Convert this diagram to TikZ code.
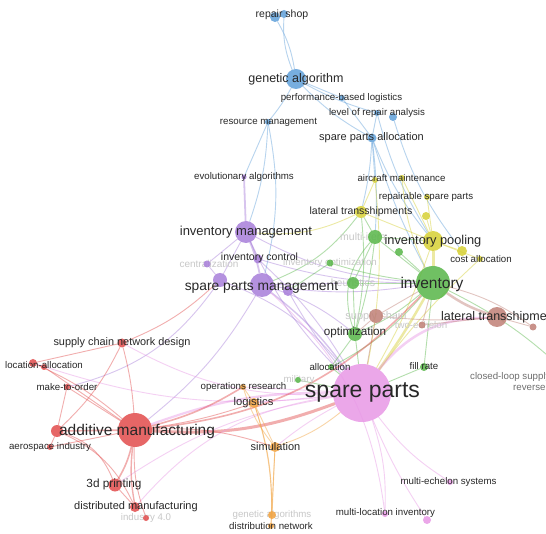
\documentclass[tikz,border=0pt]{standalone}
\usepackage{fontspec}
\setmainfont{Liberation Sans}
\definecolor{cblue}{RGB}{96,160,218}
\definecolor{cpurp}{RGB}{168,126,218}
\definecolor{cgreen}{RGB}{88,182,72}
\definecolor{cyel}{RGB}{214,208,52}
\definecolor{cbrown}{RGB}{192,128,118}
\definecolor{cpink}{RGB}{232,152,230}
\definecolor{cred}{RGB}{226,76,76}
\definecolor{corange}{RGB}{242,162,62}
\definecolor{ctext}{RGB}{40,40,40}
\definecolor{cfade}{RGB}{200,200,200}
\definecolor{cgray}{RGB}{110,110,110}
\pgfdeclarelayer{bg}
\pgfdeclarelayer{edges}
\pgfdeclarelayer{faded}
\pgfsetlayers{bg,edges,faded,main}
\begin{document}
\begin{tikzpicture}[x=1pt,y=-1pt,
  dot/.style={circle,inner sep=0pt,outer sep=0pt,draw=none,fill=#1,fill opacity=0.85},
  lbl/.style={text=ctext,inner sep=0pt,font=\fontsize{9.7}{10}\selectfont},
  fdl/.style={text=cfade,inner sep=0pt,font=\fontsize{9.7}{10}\selectfont},
  fs/.style={font=\fontsize{#1}{#1}\selectfont},
  e/.style={draw=#1,draw opacity=0.45,line width=0.9pt},
  thk/.style={line width=#1}]
\useasboundingbox (0,0) rectangle (546,534);
\begin{pgfonlayer}{bg}
\fill[white] (0,0) rectangle (546,534);
\end{pgfonlayer}
% ---------- nodes (circles) ----------
% blue
\node[dot=cblue,minimum size=10pt] (rs1) at (275,17) {};
\node[dot=cblue,minimum size=8pt] (rs2) at (284,14) {};
\node[dot=cblue,minimum size=20pt] (ga) at (296,79) {};
\node[dot=cblue,minimum size=6pt] (pbl) at (342,98) {};
\node[dot=cblue,minimum size=6pt] (lra1) at (377,113) {};
\node[dot=cblue,minimum size=8pt] (lra2) at (393,117) {};
\node[dot=cblue,minimum size=6pt] (rm) at (268,122) {};
\node[dot=cblue,minimum size=9pt] (spa) at (372,138) {};
% purple
\node[dot=cpurp,minimum size=5pt] (ea) at (244,177) {};
\node[dot=cpurp,minimum size=22pt] (im) at (246,232) {};
\node[dot=cpurp,minimum size=9pt] (ic) at (258,259) {};
\node[dot=cpurp,minimum size=7pt] (cen) at (207,264) {};
\node[dot=cpurp,minimum size=14pt] (spm1) at (220,280) {};
\node[dot=cpurp,minimum size=24pt] (spm) at (262,285) {};
\node[dot=cpurp,minimum size=10pt] (spm2) at (288,291) {};
% green
\node[dot=cgreen,minimum size=34pt] (inv) at (433,283) {};
\node[dot=cgreen,minimum size=14pt] (g1) at (375,237) {};
\node[dot=cgreen,minimum size=8pt] (g2) at (399,252) {};
\node[dot=cgreen,minimum size=7pt] (io) at (330,263) {};
\node[dot=cgreen,minimum size=12pt] (heu) at (353,283) {};
\node[dot=cgreen,minimum size=14pt] (opt) at (355,334) {};
\node[dot=cgreen,minimum size=6pt] (alloc) at (331,367) {};
\node[dot=cgreen,minimum size=6pt] (mil) at (298,380) {};
\node[dot=cgreen,minimum size=8pt] (fr) at (424,367) {};
\coordinate (clsc) at (566,372);
% yellow
\node[dot=cyel,minimum size=6pt] (am1) at (375,180) {};
\node[dot=cyel,minimum size=6pt] (am2) at (402,178) {};
\node[dot=cyel,minimum size=6pt] (rsp) at (427,197) {};
\node[dot=cyel,minimum size=8pt] (y1) at (426,216) {};
\node[dot=cyel,minimum size=12pt] (lts) at (361,212) {};
\node[dot=cyel,minimum size=20pt] (ip) at (433,241) {};
\node[dot=cyel,minimum size=10pt] (ca1) at (462,251) {};
\node[dot=cyel,minimum size=6pt] (ca2) at (480,259) {};
% brown
\node[dot=cbrown,minimum size=14pt] (sc) at (376,316) {};
\node[dot=cbrown,minimum size=7pt] (te) at (422,325) {};
\node[dot=cbrown,minimum size=20pt] (lt) at (497,317) {};
\node[dot=cbrown,minimum size=7pt] (b1) at (533,327) {};
% pink
\node[dot=cpink,minimum size=58pt] (sp) at (362,393) {};
\node[dot=cpink,minimum size=6pt] (mes) at (450,482) {};
\node[dot=cpink,minimum size=6pt] (mli) at (385,514) {};
\node[dot=cpink,minimum size=8pt] (p1) at (427,520) {};
% red
\node[dot=cred,minimum size=9pt] (scnd) at (122,343) {};
\node[dot=cred,minimum size=8pt] (la1) at (33,363) {};
\node[dot=cred,minimum size=6pt] (la2) at (44,367) {};
\node[dot=cred,minimum size=6pt] (mto) at (67,387) {};
\node[dot=cred,minimum size=34pt] (am) at (135,430) {};
\node[dot=cred,minimum size=12pt] (amb) at (57,431) {};
\node[dot=cred,minimum size=6pt] (aero) at (50,447) {};
\node[dot=cred,minimum size=13pt] (tdp) at (115,485) {};
\node[dot=cred,minimum size=10pt] (dm) at (135,507) {};
\node[dot=cred,minimum size=6pt] (i40) at (146,518) {};
% orange
\node[dot=corange,minimum size=6pt] (opr) at (243,387) {};
\node[dot=corange,minimum size=10pt] (log) at (254,403) {};
\node[dot=corange,minimum size=10pt] (sim) at (275,447) {};
\node[dot=corange,minimum size=8pt] (gas) at (272,515) {};
\node[dot=corange,minimum size=6pt] (dn) at (271,526) {};
% ---------- edges ----------
\begin{pgfonlayer}{edges}
% blue
\draw[e=cblue] (rs1) to[bend left=10] (ga);
\draw[e=cblue] (rs2) to[bend left=-12] (ga);
\draw[e=cblue] (ga) to[bend left=5] (rm);
\draw[e=cblue] (ga) to (pbl);
\draw[e=cblue] (ga) to[bend left=-8] (spa);
\draw[e=cblue] (pbl) to (spa);
\draw[e=cblue] (ga) to[bend left=-6] (lra1);
\draw[e=cblue] (lra1) to (spa);
\draw[e=cblue] (lra2) to[bend left=-10] (ca1);
\draw[e=cblue] (lra1) to[bend left=-8] (ip);
\draw[e=cblue] (rm) to[bend left=8] (im);
\draw[e=cblue] (rm) to[bend left=12] (spm);
\draw[e=cblue] (rm) to (ea);
\draw[e=cblue] (spa) to (am1);
\draw[e=cblue] (spa) to[bend left=5] (lts);
\draw[e=cblue] (spa) to[bend left=-5] (inv);
\draw[e=cblue] (spa) to[bend left=-8] (ip);
\draw[e=cblue] (spa) to[bend left=5] (g1);
% purple
\draw[e=cpurp,thk=1.8pt] (ea) to (im);
\draw[e=cpurp,thk=1.8pt] (im) to[bend left=5] (spm);
\draw[e=cpurp] (im) to (spm1);
\draw[e=cpurp] (im) to (ic);
\draw[e=cpurp] (im) to (cen);
\draw[e=cyel] (im) to[bend left=-15] (lts);
\draw[e=cpurp] (im) to[bend left=-12] (inv);
\draw[e=cpurp] (im) to[bend left=-10] (sp);
\draw[e=cpurp,thk=1.4pt] (spm) to[bend left=8] (sp);
\draw[e=cpurp] (spm1) to[bend left=15] (sp);
\draw[e=cpurp] (spm2) to[bend left=-5] (sp);
\draw[e=cpurp] (spm) to[bend left=-8] (inv);
\draw[e=cpurp] (spm) to[bend left=10] (opt);
\draw[e=cpurp] (spm) to[bend left=10] (am);
\draw[e=cpurp] (ic) to[bend left=-8] (inv);
\draw[e=cpurp] (cen) to (spm1);
\draw[e=cpink] (spm) to[bend left=20] (mli);
\draw[e=cpurp] (ic) to[bend left=8] (sp);
\draw[e=cpurp] (spm) to (heu);
\draw[e=cpurp] (spm1) to[bend left=20] (mto);
% green
\draw[e=cyel,thk=3pt] (inv) to (ip);
\draw[e=cyel,thk=2.5pt] (inv) to[bend left=3] (sp);
\draw[e=cbrown,thk=2.5pt] (inv) to[bend left=-8] (lt);
\draw[e=cgreen] (inv) to[bend left=8] (opt);
\draw[e=cgreen] (inv) to (heu);
\draw[e=cgreen] (inv) to (g1);
\draw[e=cgreen] (inv) to (g2);
\draw[e=cgreen] (inv) to[bend left=5] (io);
\draw[e=cgreen] (inv) to (fr);
\draw[e=cgreen] (inv) to[bend left=10] (alloc);
\draw[e=cgreen] (inv) to[bend left=8] (clsc);
\draw[e=cgreen] (opt) to (sp);
\draw[e=cgreen] (opt) to (alloc);
\draw[e=cgreen] (opt) to (heu);
\draw[e=cgreen] (opt) to[bend left=-5] (g1);
\draw[e=cgreen] (opt) to[bend left=-8] (lts);
\draw[e=cgreen] (heu) to (g1);
\draw[e=cgreen] (io) to (spm2);
\draw[e=cgreen] (g1) to (lts);
\draw[e=cgreen] (g1) to (ip);
\draw[e=cgreen] (lts) to[bend left=15] (spm);
\draw[e=cgreen] (mil) to (sp);
\draw[e=cgreen] (alloc) to (sp);
\draw[e=cgreen] (fr) to (sp);
\draw[e=cgreen] (g1) to[bend left=-30] (opt);
% yellow
\draw[e=cyel] (ip) to (am2);
\draw[e=cyel] (ip) to (rsp);
\draw[e=cyel] (ip) to (y1);
\draw[e=cyel] (ip) to (lts);
\draw[e=cyel] (ip) to (ca1);
\draw[e=cyel] (ip) to (ca2);
\draw[e=cyel] (ip) to[bend left=5] (sp);
\draw[e=cyel] (am1) to (lts);
\draw[e=cyel] (am1) to[bend left=8] (sp);
\draw[e=cyel] (am2) to[bend left=-10] (inv);
\draw[e=cyel] (ca2) to[bend left=-5] (sp);
% brown
\draw[e=cpink,thk=2.5pt] (lt) to[bend left=-25] (sp);
\draw[e=cbrown] (lt) to (te);
\draw[e=cbrown] (lt) to (b1);
\draw[e=cbrown] (lt) to[bend left=5] (sc);
\draw[e=cbrown] (sc) to (sp);
\draw[e=cbrown] (sc) to (inv);
\draw[e=cbrown] (sc) to (opt);
\draw[e=cbrown] (te) to (inv);
\draw[e=cbrown] (b1) to[bend left=-10] (inv);
% pink
\draw[e=cred,thk=3pt] (am) to[bend left=-12] (sp);
\draw[e=cpink,thk=2.2pt] (am) to[bend left=10] (sp);
\draw[e=cpink] (sp) to (opr);
\draw[e=cpink] (sp) to (log);
\draw[e=cpink] (sp) to[bend left=-5] (sim);
\draw[e=cpink] (sp) to[bend left=-10] (mes);
\draw[e=cpink] (sp) to[bend left=10] (mli);
\draw[e=cpink] (sp) to[bend left=-5] (p1);
\draw[e=cpink] (sp) to[bend left=15] (scnd);
\draw[e=cpink] (sp) to[bend left=-20] (dm);
\draw[e=cpink] (sp) to[bend left=-12] (tdp);
\draw[e=cpink] (sp) to[bend left=12] (la1);
% red
\draw[e=cred] (am) to[bend left=-5] (scnd);
\draw[e=cred] (am) to[bend left=-8] (la1);
\draw[e=cred] (am) to (la2);
\draw[e=cred] (am) to (mto);
\draw[e=cred] (am) to (aero);
\draw[e=cred,thk=1.6pt] (am) to[bend left=8] (tdp);
\draw[e=cred,thk=1.4pt] (am) to[bend left=-8] (dm);
\draw[e=cred] (am) to[bend left=-10] (i40);
\draw[e=cred,thk=1.6pt] (am) to (amb);
\draw[e=cred,thk=1.6pt] (am) to[bend left=-8] (opr);
\draw[e=cred] (am) to[bend left=-5] (log);
\draw[e=cred,thk=1.6pt] (am) to[bend left=-20] (inv);
\draw[e=cred] (am) to[bend left=10] (sim);
\draw[e=cred] (scnd) to (la1);
\draw[e=cred] (scnd) to[bend left=10] (amb);
\draw[e=cred] (mto) to (amb);
\draw[e=cred] (amb) to[bend left=25] (tdp);
\draw[e=cred] (amb) to[bend left=20] (dm);
\draw[e=cred] (tdp) to (dm);
\draw[e=cred] (aero) to (amb);
\draw[e=cred] (scnd) to[bend left=-10] (spm1);
% orange
\draw[e=corange] (opr) to (log);
\draw[e=corange] (log) to (sim);
\draw[e=corange] (sim) to (dn);
\draw[e=corange] (opr) to[bend left=-10] (sim);
\draw[e=corange] (sim) to (gas);
\draw[e=corange] (sim) to[bend left=-10] (sp);
\draw[e=corange] (log) to[bend left=10] (dn);
\draw[e=corange] (gas) to[bend left=-8] (log);
\end{pgfonlayer}
% ---------- faded labels ----------
\begin{pgfonlayer}{faded}
\node[fdl,fs=10] (l-cen) at (209,264) {centralization};
\node[fdl] (l-io) at (330,263) {inventory optimization};
\node[fdl,fs=10.5,anchor=west] (l-multi) at (340,237) {multi-item};
\node[fdl,fs=10.5] (l-heu) at (353,283) {heuristics};
\node[fdl,fs=11] (l-sc) at (376,317) {supply chain};
\node[fdl] (l-te) at (421,325) {two-echelon};
\node[fdl] (l-mil) at (299,380) {military};
\node[fdl] (l-gas) at (272,515) {genetic algorithms};
\node[fdl] (l-i40) at (146,518) {industry 4.0};
\end{pgfonlayer}
% ---------- labels ----------
\node[lbl,fs=10.5] (l-rs) at (282,15) {repair shop};
\node[lbl,fs=12.5] (l-ga) at (296,79) {genetic algorithm};
\node[lbl] (l-pbl) at (341.5,98) {performance-based logistics};
\node[lbl] (l-lra) at (377,113) {level of repair analysis};
\node[lbl] (l-rm) at (268.5,122) {resource management};
\node[lbl,fs=11] (l-spa) at (371.5,138) {spare parts allocation};
\node[lbl] (l-ea) at (244,177) {evolutionary algorithms};
\node[lbl] (l-am) at (401.5,178) {aircraft maintenance};
\node[lbl] (l-rsp) at (426,197) {repairable spare parts};
\node[lbl,fs=10.5] (l-lts) at (361,212) {lateral transshipments};
\node[lbl,fs=13] (l-im) at (246,232) {inventory management};
\node[lbl,fs=12.8] (l-ip) at (433,241) {inventory pooling};
\node[lbl] (l-ca) at (481,259) {cost allocation};
\node[lbl,fs=10.5] (l-ic) at (259.5,258) {inventory control};
\node[lbl,fs=13.8] (l-spm) at (261.5,287) {spare parts management};
\node[lbl,fs=15.5] (l-inv) at (432,284) {inventory};
\node[lbl,fs=11.7] (l-opt) at (355,332) {optimization};
\node[lbl,fs=10.9] (l-scnd) at (122,343) {supply chain network design};
\node[lbl] (l-la) at (44,365) {location-allocation};
\node[lbl] (l-alloc) at (330,367) {allocation};
\node[lbl] (l-fr) at (424,366) {fill rate};
\node[lbl] (l-mto) at (67,387) {make-to-order};
\node[lbl] (l-opr) at (243.5,387) {operations research};
\node[lbl,fs=23] (l-sp) at (362.5,392) {spare parts};
\node[lbl,fs=11.2] (l-log) at (253.5,403) {logistics};
\node[lbl,fs=15.5] (l-amf) at (137,431) {additive manufacturing};
\node[lbl] (l-aero) at (50,447) {aerospace industry};
\node[lbl,fs=11] (l-sim) at (275.5,447) {simulation};
\node[lbl] (l-mes) at (448.5,482) {multi-echelon systems};
\node[lbl,fs=11.8] (l-tdp) at (114,484) {3d printing};
\node[lbl,fs=11] (l-dm) at (136,507) {distributed manufacturing};
\node[lbl] (l-mli) at (385.5,513) {multi-location inventory};
\node[lbl] (l-dn) at (271,526) {distribution network};
\begin{scope}
\clip (0,0) rectangle (546,534);
\node[lbl,fs=12.5,anchor=west] (l-lt) at (441,317) {lateral transshipment};
\node[lbl,text=cgray,anchor=west] (l-clsc) at (470,377) {closed-loop supply chain};
\node[lbl,text=cgray,anchor=west] (l-rl) at (513,388) {reverse logistics};
\end{scope}
\end{tikzpicture}
\end{document}
